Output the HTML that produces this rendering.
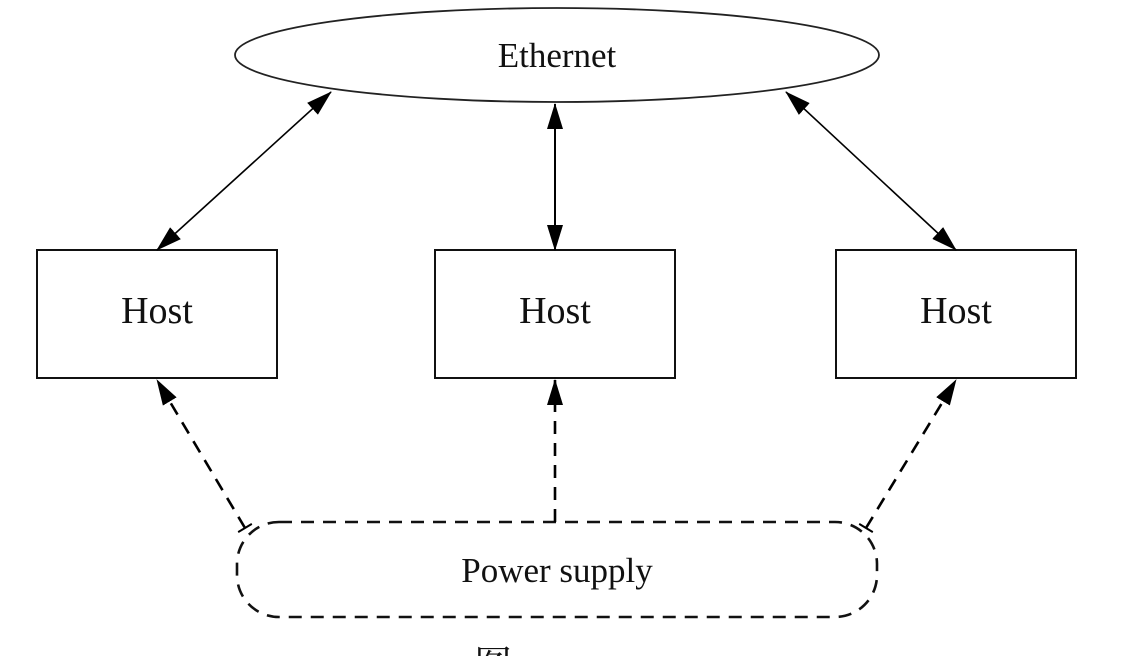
<!DOCTYPE html>
<html><head><meta charset="utf-8"><style>
html,body{margin:0;padding:0;background:#fff;}
svg{display:block;}
text{font-family:"Liberation Serif","Noto Serif CJK SC",serif;fill:#111;}
</style></head><body>
<svg width="1140" height="656" viewBox="0 0 1140 656" xmlns="http://www.w3.org/2000/svg">
<defs>
<marker id="b" markerWidth="26" markerHeight="18" refX="25" refY="9" orient="auto" markerUnits="userSpaceOnUse">
<path d="M0,1 L26,9 L0,17 Z" fill="#000"/>
</marker>
<marker id="bs" markerWidth="26" markerHeight="18" refX="1" refY="9" orient="auto" markerUnits="userSpaceOnUse">
<path d="M26,1 L0,9 L26,17 Z" fill="#000"/>
</marker>
<marker id="t" markerWidth="4" markerHeight="16" refX="2" refY="8" orient="auto" markerUnits="userSpaceOnUse">
<path d="M2,0 L2,16" stroke="#000" stroke-width="2"/>
</marker>
</defs>
<rect width="1140" height="656" fill="#fff"/>
<ellipse cx="557" cy="55" rx="322" ry="47" fill="none" stroke="#222" stroke-width="1.8"/>
<text x="557" y="67" font-size="35" text-anchor="middle">Ethernet</text>
<rect x="37" y="250" width="240" height="128" fill="none" stroke="#111" stroke-width="2"/>
<rect x="435" y="250" width="240" height="128" fill="none" stroke="#111" stroke-width="2"/>
<rect x="836" y="250" width="240" height="128" fill="none" stroke="#111" stroke-width="2"/>
<text x="157" y="323" font-size="38" text-anchor="middle">Host</text>
<text x="555" y="323" font-size="38" text-anchor="middle">Host</text>
<text x="956" y="323" font-size="38" text-anchor="middle">Host</text>
<line x1="331" y1="92" x2="157" y2="250" stroke="#000" stroke-width="1.6" marker-start="url(#bs)" marker-end="url(#b)"/>
<line x1="555" y1="104" x2="555" y2="250" stroke="#000" stroke-width="2" marker-start="url(#bs)" marker-end="url(#b)"/>
<line x1="786" y1="92" x2="956" y2="250" stroke="#000" stroke-width="1.6" marker-start="url(#bs)" marker-end="url(#b)"/>
<rect x="237" y="522" width="640" height="95" rx="42" ry="42" fill="none" stroke="#111" stroke-width="2.6" stroke-dasharray="13,9"/>
<text x="557" y="582" font-size="35" text-anchor="middle">Power supply</text>
<line x1="245" y1="528" x2="157" y2="380" stroke="#000" stroke-width="2.6" stroke-dasharray="13,9" marker-start="url(#t)" marker-end="url(#b)"/>
<line x1="555" y1="522" x2="555" y2="380" stroke="#000" stroke-width="2.6" stroke-dasharray="13,9" marker-end="url(#b)"/>
<line x1="866" y1="528" x2="956" y2="380" stroke="#000" stroke-width="2.6" stroke-dasharray="13,9" marker-start="url(#t)" marker-end="url(#b)"/>
<text x="493" y="678" font-size="38" text-anchor="middle">图</text>
</svg>
</body></html>
